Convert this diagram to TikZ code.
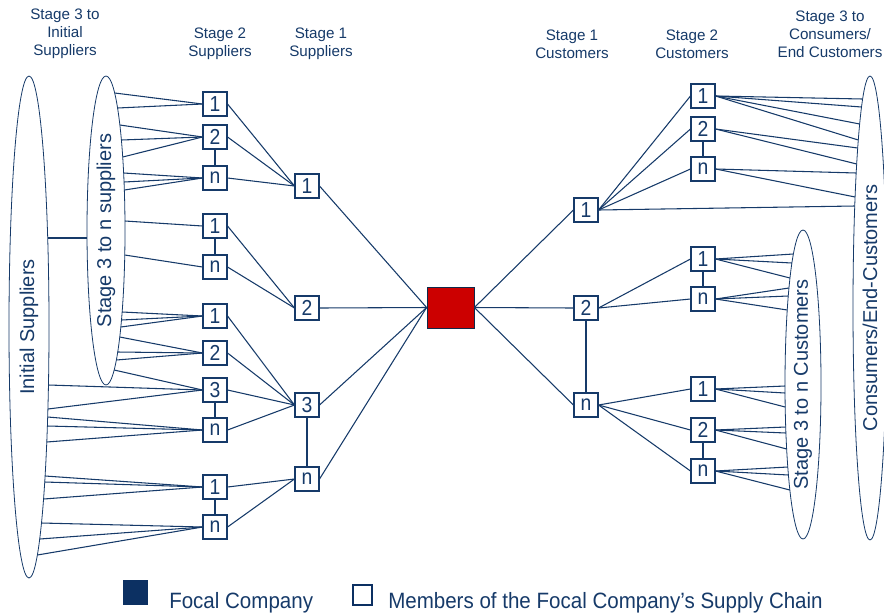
\documentclass[tikz,border=0pt]{standalone}
\usepackage{fontspec}
\setmainfont{Liberation Sans}
\usetikzlibrary{shapes.geometric}
\definecolor{navy}{RGB}{22,58,105}
\definecolor{legnavy}{RGB}{12,48,98}
\definecolor{focred}{RGB}{204,0,0}
\pgfmathdeclarefunction{ex}{5}{\pgfmathparse{#1+#3*sqrt(max(0,1-((#5-#2)/#4)*((#5-#2)/#4)))}}
\begin{document}
\begin{tikzpicture}[x=0.75pt,y=-0.75pt,
  box/.style={draw=navy, fill=white, line width=0.8pt, minimum size=18pt, inner sep=0pt,
    font=\fontsize{14.5}{14.5}\selectfont, text=navy},
  link/.style={draw=navy, line width=0.8pt},
  vlink/.style={draw=navy, line width=1.2pt},
  hdr/.style={align=center, font=\fontsize{11.4}{13.5}\selectfont, text=navy},
  ell/.style={draw=navy, ellipse, line width=0.6pt, inner sep=0pt, rotate=90,
    font=\fontsize{15}{15}\selectfont, text=navy},
  leg/.style={anchor=base west, inner sep=0pt, font=\fontsize{15.4}{16}\selectfont, text=navy}]
\useasboundingbox (0,0) rectangle (884,615);

% headers
\node[hdr] (h1) at (65,34) {Stage 3 to\\Initial\\Suppliers};
\node[hdr] (h2) at (220,44) {Stage 2\\Suppliers};
\node[hdr] (h3) at (321,44) {Stage 1\\Suppliers};
\node[hdr] (h4) at (572,44) {Stage 1\\Customers};
\node[hdr] (h5) at (692,44) {Stage 2\\Customers};
\node[hdr] (h6) at (830,34) {Stage 3 to\\Consumers/\\End Customers};

% ellipses
\node[ell, minimum width=376.5pt, minimum height=30pt] (SB) at (29,327) {Initial Suppliers};
\node[ell, minimum width=231.75pt, minimum height=28.5pt] (SS) at (106,230.5) {Stage 3 to n suppliers};
\node[ell, minimum width=348pt, minimum height=25.5pt] (CB) at (870,308) {Consumers/End-Customers};
\node[ell, minimum width=231.75pt, minimum height=27pt] (CS) at (803,384.5) {Stage 3 to n Customers};

% boxes left stage 2
\foreach \n/\y/\t in {La1/104/1, La2/137/2, Lan/178/n, Lb1/226/1, Lbn/267/n,
  Lc1/316/1, Lc2/353/2, Lc3/390/3, Lcn/430/n, Ld1/487/1, Ldn/527/n}
  \node[box] (\n) at (215,\y) {\scalebox{1}[1.12]{\t}};
% left stage 1
\foreach \n/\y/\t in {S1/186/1, S2/308/2, S3/405/3, Sn/479/n}
  \node[box] (\n) at (307,\y) {\scalebox{1}[1.12]{\t}};
% focal
\node[draw=navy!70!black, fill=focred, line width=0.6pt, minimum width=35.25pt, minimum height=30.75pt, inner sep=0pt] (F) at (450.5,307.5) {};
% right stage 1
\foreach \n/\y/\t in {C1/210/1, C2/308/2, Cn/405/n}
  \node[box] (\n) at (586,\y) {\scalebox{1}[1.12]{\t}};
% right stage 2
\foreach \n/\y/\t in {Ra1/96/1, Ra2/129/2, Ran/169/n, Rb1/259/1, Rbn/299/n,
  Rc1/389/1, Rc2/430/2, Rcn/471/n}
  \node[box] (\n) at (703,\y) {\scalebox{1}[1.12]{\t}};

% ellipse connector
\draw[link] ({ex(29,327,20,251,238)},238) -- ({ex(106,230.5,-19,154.5,238)},238);

% left ellipse lines
\foreach \b/\y in {La1/93, La1/108, La2/125, La2/140, La2/157, Lan/173, Lan/182, Lan/190,
  Lb1/221, Lbn/255, Lc1/312, Lc1/320, Lc1/327, Lc2/337, Lc2/352, Lc2/360, Lc3/370}
  \draw[link] (\b.west) -- ({ex(106,230.5,19,154.5,\y)},\y);
\foreach \b/\y in {Lc3/385, Lc3/409, Lcn/417, Lcn/426, Lcn/442, Ld1/476, Ld1/482, Ld1/499,
  Ldn/523, Ldn/539, Ldn/555}
  \draw[link] (\b.west) -- ({ex(29,327,20,251,\y)},\y);

% right ellipse lines
\foreach \b/\y in {Ra1/99, Ra1/107, Ra1/124, Ra1/140, Ra2/148, Ra2/164, Ran/173, Ran/197, C1/206}
  \draw[link] (\b.east) -- ({ex(870,308,-17,232,\y)},\y);
\foreach \b/\y in {Rb1/254, Rb1/263, Rb1/278, Rbn/288, Rbn/296, Rbn/310, Rc1/386, Rc1/393, Rc1/407,
  Rc2/427, Rc2/433, Rc2/449, Rcn/467, Rcn/475, Rcn/490}
  \draw[link] (\b.east) -- ({ex(803,384.5,-18,154.5,\y)},\y);

% stage 2 -> stage 1 (suppliers)
\foreach \a/\b in {La1/S1, La2/S1, Lan/S1, Lb1/S2, Lbn/S2, Lc1/S3, Lc2/S3, Lc3/S3, Lcn/S3, Ld1/Sn, Ldn/Sn}
  \draw[link] (\a.east) -- (\b.west);
% stage 1 -> focal
\foreach \a in {S1,S2,S3,Sn}
  \draw[link] (\a.east) -- (F.west);
\foreach \a in {C1,C2,Cn}
  \draw[link] (F.east) -- (\a.west);
% customers stage 1 -> stage 2
\foreach \a/\b in {C1/Ra1, C1/Ra2, C1/Ran, C2/Rb1, C2/Rbn, Cn/Rc1, Cn/Rc2, Cn/Rcn}
  \draw[link] (\a.east) -- (\b.west);

% vertical links
\foreach \a/\b in {La2/Lan, Lb1/Lbn, Lc3/Lcn, Ld1/Ldn, S3/Sn, C2/Cn, Ra2/Ran, Rb1/Rbn, Rc2/Rcn}
  \draw[vlink] (\a.south) -- (\b.north);

% legend
\node[fill=legnavy, minimum size=18.75pt, inner sep=0pt] (lg1) at (135.5,592.5) {};
\node[leg] (lt1) at (169,608) {\scalebox{1}[1.08]{Focal Company}};
\node[draw=legnavy, line width=1.5pt, minimum size=14.5pt, inner sep=0pt] (lg2) at (362.5,595) {};
\node[leg] (lt2) at (388,608) {\scalebox{1}[1.08]{Members of the Focal Company’s Supply Chain}};
\end{tikzpicture}
\end{document}
